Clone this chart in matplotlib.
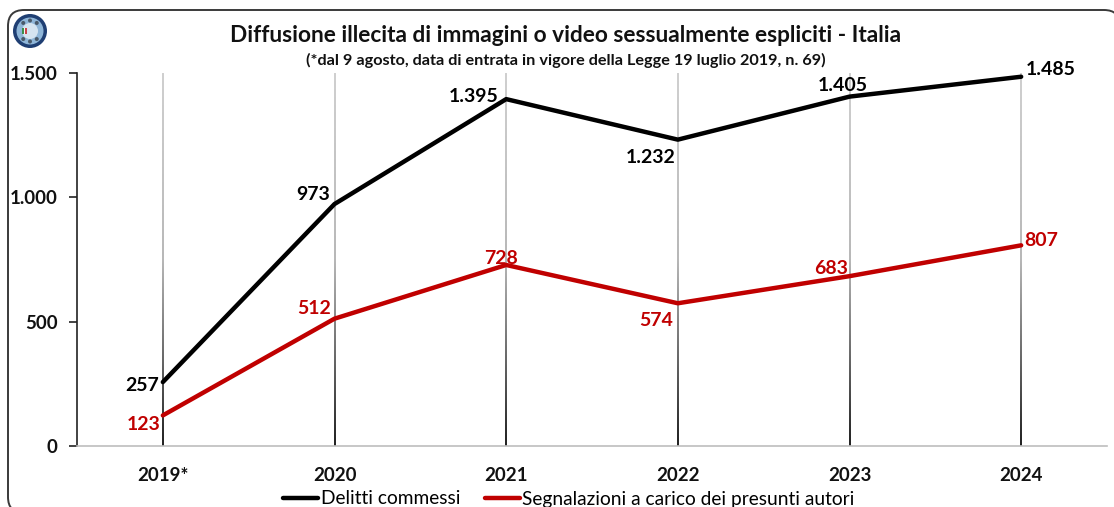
"""Diffusione illecita di immagini: delitti e segnalazioni, Italia 2019-2024."""

import numpy as np
import matplotlib

matplotlib.use("Agg")
import matplotlib.pyplot as plt
from matplotlib.colors import LinearSegmentedColormap
from matplotlib.patches import Circle, FancyBboxPatch, Rectangle

W, H = 1114, 507

years = ["2019*", "2020", "2021", "2022", "2023", "2024"]
delitti = [257, 973, 1395, 1232, 1405, 1485]
segnalazioni = [123, 512, 728, 574, 683, 807]
delitti_labels = ["257", "973", "1.395", "1.232", "1.405", "1.485"]
segnalazioni_labels = ["123", "512", "728", "574", "683", "807"]
y_ticks = [0, 500, 1000, 1500]
y_tick_labels = ["0", "500", "1.000", "1.500"]

# label offsets in pixels, centre of text relative to the point
delitti_offsets = [(-21, -3), (-21, 10), (-33, 3), (-27, -18), (-7, 11), (30, 7)]
segnalazioni_offsets = [(-19, -9), (-20, 10), (-5, 6), (-22, -17), (-18, 8), (20, 5)]

BLACK = "#000000"
RED = "#C00000"
PX = 0.72  # pixels to points at dpi 100

plt.rcParams["font.family"] = ["Lato", "DejaVu Sans"]
plt.rcParams["font.weight"] = "bold"

fig = plt.figure(figsize=(W / 100, H / 100), dpi=100)
ax = fig.add_axes([77 / W, 1 - 446 / H, (1107 - 77) / W, (446 - 73) / H])

# outer rounded frame and logo live on a pixel-coordinate overlay
bg = fig.add_axes([0, 0, 1, 1], zorder=-1)
bg.set_xlim(0, W)
bg.set_ylim(H, 0)
bg.axis("off")
bg.add_patch(FancyBboxPatch((8, 10), 1112, 503, boxstyle="round,pad=0,rounding_size=16",
                            fc="white", ec="#3a3a3a", lw=1.4))
bg.add_patch(Circle((30, 31), 17, fc="#1F3F73", ec="none"))
bg.add_patch(Circle((30, 31), 13.5, fc="#8FB6D8", ec="none"))
bg.add_patch(Circle((30, 31), 8, fc="#D5E4F0", ec="none"))
for ang in np.deg2rad([50, 130, 230, 310, 90, 270]):
    bg.add_patch(Circle((30 + 10.5 * np.cos(ang), 31 + 10.5 * np.sin(ang)), 2, fc="#4A5A6A", ec="none"))
for i, c in enumerate(["#3C8F4A", "#F4F4F4", "#C8444A"]):
    bg.add_patch(Rectangle((22 + 1.7 * i, 28), 1.7, 6, fc=c, ec="none"))

x = np.arange(len(years))
ax.patch.set_alpha(0)

# drop lines fade from light grey at the top to dark at the axis
fade = LinearSegmentedColormap.from_list("fade", ["#D0D0D0", "#B8B8B8", "#222222"])
grad = np.linspace(0, 1, 256).reshape(-1, 1)
for xi in x:
    ax.imshow(grad, cmap=fade, aspect="auto", zorder=1, interpolation="bilinear",
              extent=(xi - 0.004, xi + 0.004, 0, 1500))
ax.set_xlim(-0.5, len(years) - 0.5)
ax.set_ylim(0, 1500)

ax.plot(x, delitti, color=BLACK, lw=3.2, solid_capstyle="round", zorder=3, label="Delitti commessi")
ax.plot(x, segnalazioni, color=RED, lw=3.2, solid_capstyle="round", zorder=3,
        label="Segnalazioni a carico dei presunti autori")

for xi, v, s, off in zip(x, delitti, delitti_labels, delitti_offsets):
    ax.annotate(s, (xi, v), xytext=(off[0] * PX, off[1] * PX), textcoords="offset points",
                ha="center", va="center", fontsize=14, color=BLACK, zorder=4)
for xi, v, s, off in zip(x, segnalazioni, segnalazioni_labels, segnalazioni_offsets):
    ax.annotate(s, (xi, v), xytext=(off[0] * PX, off[1] * PX), textcoords="offset points",
                ha="center", va="center", fontsize=14, color=RED, zorder=4)

ax.set_xticks(x)
ax.set_xticklabels(years, fontsize=13.5, color="#111111")
ax.tick_params(axis="x", length=0, pad=15)
ax.set_yticks(y_ticks)
ax.set_yticklabels(y_tick_labels, fontsize=13.5, color="#111111")
ax.tick_params(axis="y", length=6, width=1.2, color="#222222", pad=8)

for side in ("top", "right"):
    ax.spines[side].set_visible(False)
ax.spines["left"].set_color("#222222")
ax.spines["left"].set_linewidth(1.2)
ax.spines["bottom"].set_color("#BDBDBD")
ax.spines["bottom"].set_linewidth(1.2)

fig.text(566 / W, 1 - 36 / H, "Diffusione illecita di immagini o video sessualmente espliciti - Italia",
         ha="center", va="center", fontsize=16.3, color="#111111")
fig.text(566 / W, 1 - 60 / H, "(*dal 9 agosto, data di entrata in vigore della Legge 19 luglio 2019, n. 69)",
         ha="center", va="center", fontsize=11.7, color="#111111")

handles, labels = ax.get_legend_handles_labels()
fig.legend(handles, labels, loc="center", bbox_to_anchor=(569 / W, 1 - 499 / H), ncol=2,
           frameon=False, handlelength=1.8, handletextpad=0.15, columnspacing=1.3,
           borderpad=0, prop={"size": 13.8, "weight": "normal"})

fig.savefig("out.png", dpi=100)
